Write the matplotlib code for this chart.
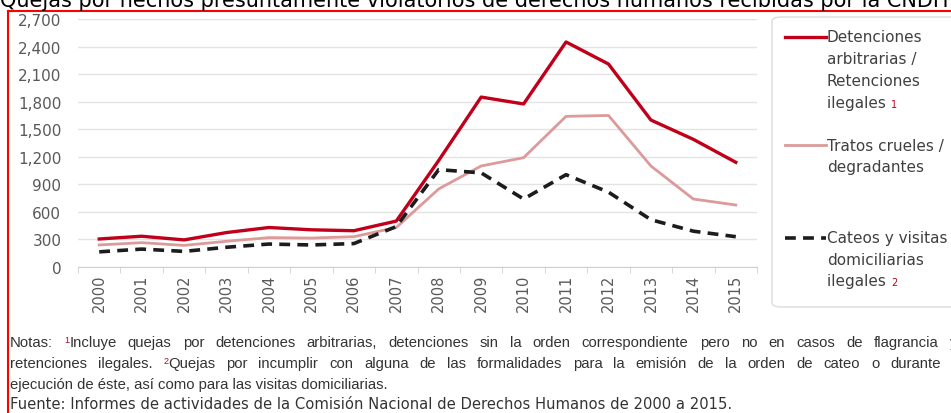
"""Quejas por hechos presuntamente violatorios de derechos humanos (CNDH, 2000-2015)."""

import matplotlib

matplotlib.use("Agg")
import matplotlib.pyplot as plt
from matplotlib.lines import Line2D
from matplotlib.patches import FancyBboxPatch
from matplotlib.ticker import FuncFormatter, MultipleLocator
import numpy as np


YEARS = [str(y) for y in range(2000, 2016)]
DETENCIONES = [305, 335, 295, 375, 430, 405, 395, 500, 1160, 1850, 1775, 2450, 2210, 1600, 1390, 1140]
TRATOS = [240, 265, 235, 280, 320, 315, 330, 430, 850, 1100, 1190, 1640, 1650, 1100, 740, 675]
CATEOS = [165, 195, 170, 215, 250, 240, 255, 440, 1060, 1025, 740, 1005, 815, 515, 390, 330]

RED = "#c0001a"
PINK = "#dc9a9a"
BLACK = "#1c1c1c"
GREY_TEXT = "#595959"
NOTE_FONT = ["Liberation Sans", "DejaVu Sans"]
NOTE_SIZE = 10.7
NOTE_COLOR = "#333333"

W, H = 951, 414


def fx(px):
    return px / W


def fy(py):
    return 1 - py / H


def segments(fig, x, y, parts, **kw):
    """Write text pieces one after another on a baseline (figure pixels)."""
    renderer = fig.canvas.get_renderer()
    cur = x
    for s, color, size, dy in parts:
        t = fig.text(fx(cur), fy(y - dy), s, color=color, fontsize=size, va="baseline", ha="left", **kw)
        cur = t.get_window_extent(renderer).x1
    return cur


def justified(fig, x0, x1, y, words):
    """Words (lists of pieces) spread so the line fills x0..x1."""
    renderer = fig.canvas.get_renderer()
    widths = []
    for word in words:
        w = 0
        for s, color, size, dy in word:
            t = fig.text(0, 0, s, fontsize=size, family=NOTE_FONT)
            w += t.get_window_extent(renderer).width
            t.remove()
        widths.append(w)
    gap = (x1 - x0 - sum(widths)) / (len(words) - 1)
    cur = x0
    for word, w in zip(words, widths):
        segments(fig, cur, y, word, family=NOTE_FONT)
        cur += w + gap


def note_words(text, sup=None, sup_before=None):
    words = [[(w, NOTE_COLOR, NOTE_SIZE, 0)] for w in text.split()]
    if sup is not None:
        idx = sup_before
        words[idx] = [(sup, RED, 6.5, 4)] + words[idx]
    return words


def main():
    fig = plt.figure(figsize=(W / 100, H / 100), dpi=100)
    ax = fig.add_axes([fx(78), fy(268), fx(757) - fx(78), fy(20) - fy(268)])

    x = np.arange(len(YEARS))
    ax.plot(x, DETENCIONES, color=RED, lw=2.4, solid_joinstyle="round", zorder=4)
    ax.plot(x, TRATOS, color=PINK, lw=2.0, zorder=3)
    ax.plot(x, CATEOS, color=BLACK, lw=2.6, dashes=(3, 2), zorder=5)

    ax.set_ylim(0, 2700)
    ax.set_xlim(-0.47, 15.45)
    ax.yaxis.set_major_locator(MultipleLocator(300))
    ax.yaxis.set_major_formatter(FuncFormatter(lambda v, _: f"{int(v):,}"))
    ax.grid(axis="y", color="#e3e3e3", lw=1.0)
    ax.set_axisbelow(True)
    for side in ("top", "right", "left"):
        ax.spines[side].set_visible(False)
    ax.spines["bottom"].set_color("#d0d0d0")
    ax.set_xticks(x)
    ax.set_xticklabels(YEARS, rotation=90)
    ax.set_xticks(np.arange(-0.5, len(YEARS), 1), minor=True)
    ax.tick_params(axis="x", which="major", length=0, pad=5, labelsize=10.5, labelcolor=GREY_TEXT)
    ax.tick_params(axis="x", which="minor", length=4, color="#d0d0d0")
    ax.tick_params(axis="y", length=0, pad=12, labelsize=11, labelcolor=GREY_TEXT)

    # title, cut off at the top as in the source
    fig.text(0.0, fy(7), "Quejas por hechos presuntamente violatorios de derechos humanos recibidas por la CNDH",
             fontsize=15, color="black", va="baseline", ha="left")

    # frame round the figure
    fig.add_artist(Line2D([fx(8), 1], [fy(12), fy(12)], color="red", lw=1.5))
    fig.add_artist(Line2D([fx(8), fx(8)], [fy(12), 0], color="red", lw=1.5))
    fig.add_artist(FancyBboxPatch((fx(772), fy(308)), fx(200), fy(18) - fy(308),
                                  boxstyle="round,pad=0,rounding_size=0.01",
                                  fc="none", ec="#dcdcdc", lw=1.0))

    # legend
    lx0, lx1, tx = 785, 826, 827
    leg_font = dict(fontsize=11, color="#404040")
    fig.add_artist(Line2D([fx(lx0), fx(lx1)], [fy(38), fy(38)], color=RED, lw=2.4))
    for i, s in enumerate(["Detenciones", "arbitrarias /", "Retenciones"]):
        fig.text(fx(tx), fy(38 + 21.5 * i), s, va="center", **leg_font)
    fig.canvas.draw()
    segments(fig, tx, 108, [("ilegales ", "#404040", 11, 0), ("1", RED, 7, 0)])

    fig.add_artist(Line2D([fx(lx0), fx(lx1)], [fy(146), fy(146)], color=PINK, lw=2.0))
    for i, s in enumerate(["Tratos crueles /", "degradantes"]):
        fig.text(fx(tx), fy(146 + 21.5 * i), s, va="center", **leg_font)

    fig.add_artist(Line2D([fx(lx0), fx(lx1)], [fy(239), fy(239)], color=BLACK, lw=2.6, dashes=(3, 2)))
    for i, s in enumerate(["Cateos y visitas", "domiciliarias"]):
        fig.text(fx(tx), fy(239 + 21.5 * i), s, va="center", **leg_font)
    segments(fig, tx, 286, [("ilegales ", "#404040", 11, 0), ("2", RED, 7, 0)])

    # notes: the first two lines are justified and run past the right edge
    justified(fig, 10, 957, 347,
              note_words("Notas: Incluye quejas por detenciones arbitrarias, detenciones sin la orden "
                         "correspondiente pero no en casos de flagrancia y", "1", 1))
    justified(fig, 10, 963, 368,
              note_words("retenciones ilegales. Quejas por incumplir con alguna de las formalidades para la "
                         "emisión de la orden de cateo o durante la", "2", 2))
    segments(fig, 10, 389, [("ejecución de éste, así como para las visitas domiciliarias.", NOTE_COLOR, NOTE_SIZE, 0)],
             family=NOTE_FONT)
    segments(fig, 10, 409, [("Fuente: Informes de actividades de la Comisión Nacional de Derechos Humanos "
                             "de 2000 a 2015.", NOTE_COLOR, 10.6, 0)], family=["DejaVu Sans"])

    fig.savefig("out.png", dpi=100)
    plt.close(fig)


if __name__ == "__main__":
    main()
